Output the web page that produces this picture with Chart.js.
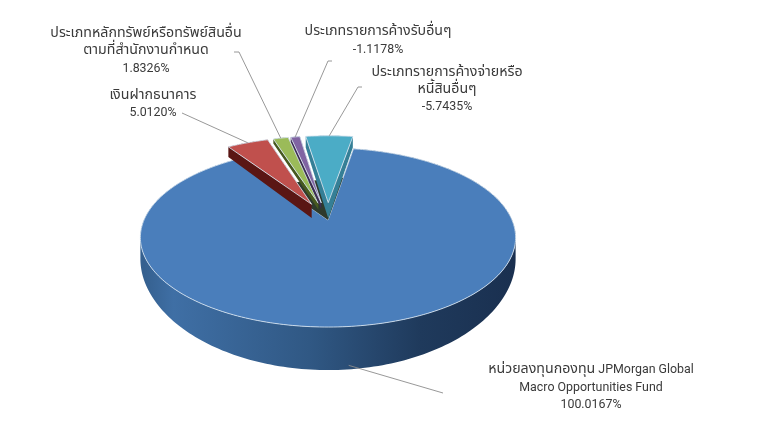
<!DOCTYPE html>
<html>
<head>
<meta charset="utf-8">
<script src="https://cdn.jsdelivr.net/npm/chart.js@4"></script>
<style>
  html, body { margin: 0; padding: 0; background: #fff; }
  canvas { display: block; filter: blur(0.35px); }
</style>
</head>
<body>
<canvas id="pieChart" width="775" height="428"></canvas>
<script>
// Chart data
const fundNames = [
    ['หน่วยลงทุนกองทุน JPMorgan Global', 'Macro Opportunities Fund'],
    ['เงินฝากธนาคาร'],
    ['ประเภทหลักทรัพย์หรือทรัพย์สินอื่น', 'ตามที่สำนักงานกำหนด'],
    ['ประเภทรายการค้างรับอื่นๆ'],
    ['ประเภทรายการค้างจ่ายหรือ', 'หนี้สินอื่นๆ']
];
const fundValues = [100.0167, 5.0120, 1.8326, -1.1178, -5.7435];

// Slice colours: top face and side wall
const topColors = ['#4a7ebb', '#c0504d', '#9bbb59', '#8064a2', '#4bacc6'];
const wallColors = ['#2f5580', '#5a1614', '#47591f', '#3c2c52', '#357f96'];

// 3D look
const perspective = 0.1955;
const squash = 0.468;
const explode = [0, 0.21, 0.21, 0.21, 0.21];
const wallScale = [1, 0.85, 0.4, 0.4, 1];

// Where each label sits: centre x, first line y, leader points, nudge of the leader foot (degrees)
const labelLayout = [
    { x: 591, y: 370, lineH: 17.5, leader: [[443, 393]], nudge: 7, lift: 4 },
    { x: 153, y: 96, lineH: 17, leader: [[182, 113]], nudge: 0, lift: 0 },
    { x: 146, y: 34, lineH: 17.5, leader: [[239, 52], [234, 52]], nudge: 0, lift: 0 },
    { x: 378, y: 32, lineH: 18, leader: [[328, 61], [332, 61]], nudge: 0, lift: 0 },
    { x: 447, y: 73, lineH: 17, leader: [[358, 87], [362, 87]], nudge: 0, lift: 0 }
];

const thaiFont = '14.2px Tahoma, "Noto Sans Thai", "Noto Sans", sans-serif';
const latinFont = '12.4px Roboto, "Noto Sans", sans-serif';

function depthAt(v, index) {
    // The exploded slices are thinner than the main body
    if (index > 0) return (17 + 5 * v) * wallScale[index];
    return 18 + 14.5 * v + 10.5 * v * v;
}

function project(el, u, v, drop, index) {
    const w = 1 - perspective * v;
    return {
        x: el.x + el.outerRadius * u / w,
        y: el.y + el.outerRadius * squash * v / w + (drop ? depthAt(v, index) : 0)
    };
}

// Slice outline in unit circle coordinates, first point is the apex
function sliceOutline(el, index) {
    const mid = (el.startAngle + el.endAngle) / 2;
    const ox = Math.cos(mid) * explode[index];
    const oy = Math.sin(mid) * explode[index];
    const pts = [[ox, oy]];
    const steps = Math.ceil((el.endAngle - el.startAngle) / 0.02);
    for (let i = 0; i <= steps; i++) {
        const a = el.startAngle + (el.endAngle - el.startAngle) * i / steps;
        pts.push([ox + Math.cos(a), oy + Math.sin(a)]);
    }
    return pts;
}

function addPolygon(ctx, pts) {
    pts.forEach((p, i) => i ? ctx.lineTo(p.x, p.y) : ctx.moveTo(p.x, p.y));
    ctx.closePath();
}

function drawSlice(ctx, el, index) {
    const outline = sliceOutline(el, index);
    const top = outline.map(p => project(el, p[0], p[1], false, index));
    const bottom = outline.map(p => project(el, p[0], p[1], true, index));

    let wallFill = wallColors[index];
    if (index === 0) {
        wallFill = ctx.createLinearGradient(el.x - el.outerRadius, 0, el.x + el.outerRadius, 0);
        wallFill.addColorStop(0, '#35608f');
        wallFill.addColorStop(0.08, '#3f6fa5');
        wallFill.addColorStop(0.45, '#305884');
        wallFill.addColorStop(0.75, '#1f3a5c');
        wallFill.addColorStop(1, '#1a3050');
    }

    // One path for the whole wall, so there are no seams between the pieces
    ctx.beginPath();
    for (let i = 0; i < top.length; i++) {
        const j = (i + 1) % top.length;
        const quad = [top[i], top[j], bottom[j], bottom[i]];
        const area = quad.reduce((s, p, n) => {
            const q = quad[(n + 1) % 4];
            return s + p.x * q.y - q.x * p.y;
        }, 0);
        addPolygon(ctx, area > 0 ? quad : quad.slice().reverse());
    }
    ctx.fillStyle = wallFill;
    ctx.fill();

    ctx.beginPath();
    addPolygon(ctx, top);
    ctx.fillStyle = el.options.backgroundColor;
    ctx.fill();
    ctx.strokeStyle = 'rgba(215,228,240,0.85)';
    ctx.lineWidth = 1;
    ctx.stroke();
}

// Dark backing at the point of the notch, seen between the pulled out slices
function drawNotchShadow(ctx, el) {
    const reach = 0.55;
    const a = project(el, 0, 0, false, 0);
    const b = project(el, Math.cos(el.startAngle) * reach, Math.sin(el.startAngle) * reach, false, 0);
    const c = project(el, Math.cos(el.endAngle) * reach, Math.sin(el.endAngle) * reach, false, 0);
    ctx.beginPath();
    addPolygon(ctx, [a, b, c]);
    ctx.fillStyle = '#2e3a2c';
    ctx.fill();
}

// Thai and Latin parts of a line have different sizes
function drawTextLine(ctx, line, cx, y) {
    const runs = line.split(/([\u0E00-\u0E7F]+)/).filter(r => r.length);
    const fontOf = r => /[\u0E00-\u0E7F]/.test(r) ? thaiFont : latinFont;
    let width = 0;
    runs.forEach(r => {
        ctx.font = fontOf(r);
        width += ctx.measureText(r).width;
    });
    let x = cx - width / 2;
    runs.forEach(r => {
        ctx.font = fontOf(r);
        ctx.fillText(r, x, y);
        x += ctx.measureText(r).width;
    });
}

function drawLabels(chart, meta) {
    const ctx = chart.ctx;
    ctx.save();
    ctx.textAlign = 'left';
    ctx.textBaseline = 'middle';
    fundNames.forEach((lines, i) => {
        const el = meta.data[i];
        const pos = labelLayout[i];

        // Leader line from the slice rim to the label
        const mid = (el.startAngle + el.endAngle) / 2;
        const a = mid + pos.nudge * Math.PI / 180;
        const u = Math.cos(a) + Math.cos(mid) * explode[i];
        const v = Math.sin(a) + Math.sin(mid) * explode[i];
        const foot = project(el, u, v, pos.lift > 0, i);
        ctx.beginPath();
        ctx.moveTo(foot.x, foot.y - pos.lift);
        pos.leader.forEach(p => ctx.lineTo(p[0], p[1]));
        ctx.strokeStyle = '#8c8c8c';
        ctx.lineWidth = 0.9;
        ctx.stroke();

        // Text lines
        const text = lines.concat(fundValues[i].toFixed(4) + '%');
        ctx.fillStyle = '#3a3a3a';
        text.forEach((line, n) => drawTextLine(ctx, line, pos.x, pos.y + n * pos.lineH));
    });
    ctx.restore();
}

// Draws the arcs of the pie as a 3D exploded pie
const pie3dPlugin = {
    id: 'pie3d',
    beforeDatasetDraw(chart, args) {
        const ctx = chart.ctx;
        ctx.save();
        args.meta.data.forEach((el, i) => {
            drawSlice(ctx, el, i);
            if (i === 0) drawNotchShadow(ctx, el);
        });
        ctx.restore();
        drawLabels(chart, args.meta);
        return false;
    }
};

const pieChart = new Chart(document.getElementById('pieChart'), {
    type: 'pie',
    data: {
        labels: fundNames.map(n => n.join(' ')),
        datasets: [{
            data: fundValues.map(Math.abs),
            backgroundColor: topColors,
            radius: 184,
            rotation: 9.5
        }]
    },
    options: {
        responsive: false,
        animation: false,
        layout: { padding: { left: 0, right: 119, top: 12, bottom: 0 } },
        plugins: {
            legend: { display: false },
            tooltip: { enabled: false }
        }
    },
    plugins: [pie3dPlugin]
});
</script>
</body>
</html>
